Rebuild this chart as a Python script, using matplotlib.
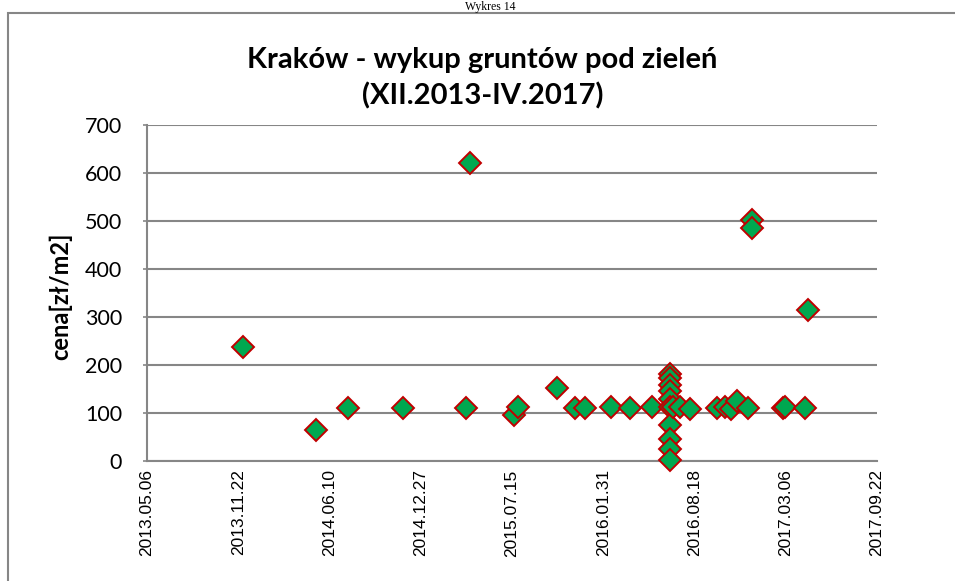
import numpy as np
import pandas as pd
import matplotlib
matplotlib.use("Agg")
import matplotlib.pyplot as plt
import matplotlib.dates as mdates
from matplotlib.patches import Rectangle

# dane
daty = ["2013-12-03", "2014-05-11", "2014-07-20", "2014-11-19", "2015-04-06",
        "2015-04-14", "2015-07-19", "2015-07-29", "2015-10-21", "2015-11-30",
        "2015-12-22", "2016-02-18", "2016-03-30", "2016-05-17",
        "2016-06-25", "2016-06-25", "2016-06-25", "2016-06-25", "2016-06-25",
        "2016-06-25", "2016-06-25", "2016-06-25", "2016-06-25", "2016-06-25",
        "2016-07-01", "2016-07-17", "2016-08-08",
        "2016-10-06", "2016-10-24", "2016-11-05", "2016-11-19", "2016-12-14",
        "2016-12-21", "2016-12-21", "2017-03-01", "2017-03-04", "2017-04-17",
        "2017-04-24"]
ceny = [238, 64, 110, 110, 110,
        621, 96, 112, 153, 110,
        110, 112, 110, 112,
        182, 172, 158, 145, 130, 113, 75, 45, 25, 2,
        112, 112, 108,
        110, 112, 108, 124, 110,
        503, 485, 110, 112, 110,
        315]

x_start = pd.Timestamp("2013-05-06")
x_end = pd.Timestamp("2017-09-22")
krok_dni = 200

title = "Kraków - wykup gruntów pod zieleń\n(XII.2013-IV.2017)"
ylabel = "cena[zł/m2]"

x = pd.to_datetime(daty)

fig = plt.figure(figsize=(9.55, 5.81), dpi=100)
ax = fig.add_axes([147 / 955, 120 / 581, 730 / 955, 336 / 581])

ax.plot(x, ceny, linestyle="none", marker="D", markersize=11,
        markerfacecolor="#00A850", markeredgecolor="#C00000",
        markeredgewidth=1.4, zorder=3, clip_on=False)

ax.set_xlim(x_start, x_end)
ax.set_ylim(0, 700)
ax.set_yticks(np.arange(0, 701, 100))
ticks = pd.date_range(x_start, x_end, freq=f"{krok_dni}D")
ax.set_xticks(ticks)
ax.xaxis.set_major_formatter(mdates.DateFormatter("%Y.%m.%d"))

ax.grid(axis="y", color="#868686", linewidth=1.5)
ax.set_axisbelow(True)
for s in ["top", "right"]:
    ax.spines[s].set_visible(False)
for s in ["left", "bottom"]:
    ax.spines[s].set_color("#868686")
    ax.spines[s].set_linewidth(1.5)

ax.tick_params(axis="y", length=3, width=1.2, color="#868686", pad=15,
               labelsize=15.5)
ax.tick_params(axis="x", length=0, pad=6, labelsize=12.5, rotation=90)
for lab in ax.get_yticklabels():
    lab.set_fontfamily("Lato")
for lab in ax.get_xticklabels():
    lab.set_fontfamily("Liberation Sans")

ax.set_ylabel(ylabel, fontsize=17, fontweight="bold", fontfamily="Lato")
ax.yaxis.set_label_coords(-0.103, 0.49)
fig.text(0.505, 1 - 78 / 581, title, ha="center", va="center", fontsize=21,
         fontweight="bold", fontfamily="Lato", linespacing=1.42)

# ramka wykresu i podpis nad nia
fig.patches.append(Rectangle((8 / 955, -0.2), 1.2, 1.2 - 13 / 581,
                             transform=fig.transFigure, fill=False,
                             edgecolor="#868686", linewidth=1.5))
fig.text(0.513, 0.999, "Wykres 14", ha="center", va="top",
         fontsize=8.5, fontfamily="Liberation Serif")

fig.savefig("out.png", dpi=100)
